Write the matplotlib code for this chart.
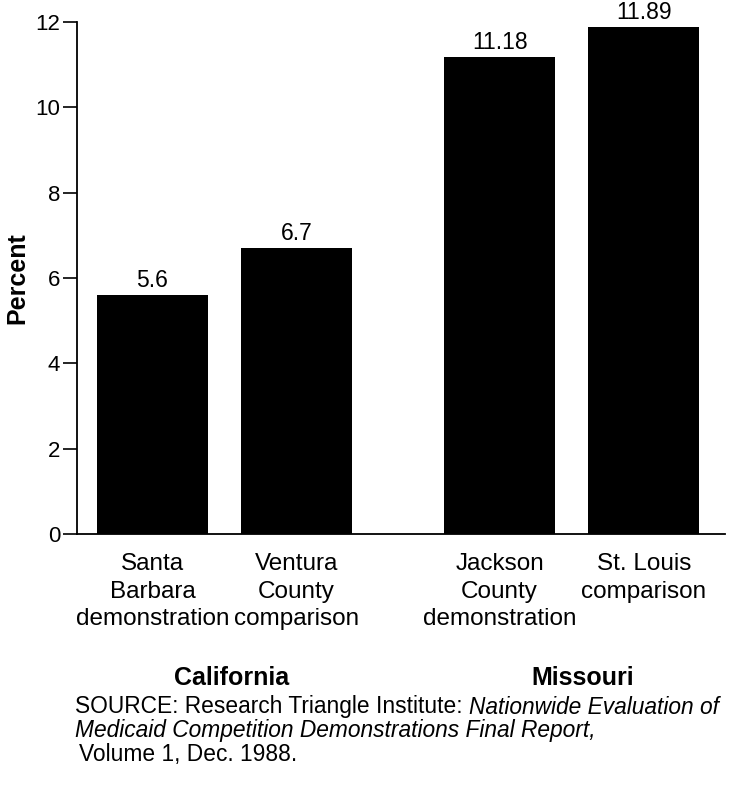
import numpy as np
import matplotlib.pyplot as plt

plt.rcParams['font.family'] = ['Liberation Sans', 'DejaVu Sans']

categories = ["Santa\nBarbara\ndemonstration", "Ventura\nCounty\ncomparison",
              "Jackson\nCounty\ndemonstration", "St. Louis\ncomparison"]
values = [5.6, 6.7, 11.18, 11.89]
value_labels = ["5.6", "6.7", "11.18", "11.89"]
groups = ["California", "Missouri"]
yticks = [0, 2, 4, 6, 8, 10, 12]

xpos = [0, 1.3, 3.13, 4.43]

fig = plt.figure(figsize=(7.37, 7.94), dpi=100)
ax = fig.add_axes([0.1045, 0.3275, 0.879, 0.645])

ax.bar(xpos, values, width=1.0, color='black')
for x, v, lab in zip(xpos, values, value_labels):
    ax.text(x, v + 0.06, lab, ha='center', va='bottom', fontsize=16.5)

ax.set_xlim(-0.68, 5.16)
ax.set_ylim(0, 12)
ax.set_yticks(yticks)
ax.set_yticklabels([str(t) for t in yticks], fontsize=16)
ax.set_xticks(xpos)
ax.set_xticklabels(categories, fontsize=17.5, linespacing=1.3)
ax.tick_params(axis='x', length=0, pad=14)
ax.tick_params(axis='y', direction='out', length=10, width=1.2, pad=2)
for s in ['top', 'right']:
    ax.spines[s].set_visible(False)
ax.spines['left'].set_linewidth(1.3)
ax.spines['bottom'].set_linewidth(1.3)

# y label
fig.text(17 / 737, 1 - 278 / 794, 'Percent', rotation=90, ha='center', va='center',
         fontsize=18, fontweight='bold')

# group labels
fig.text(232 / 737, 1 - 678 / 794, groups[0], ha='center', va='center',
         fontsize=18, fontweight='bold')
fig.text(583 / 737, 1 - 678 / 794, groups[1], ha='center', va='center',
         fontsize=18, fontweight='bold')

# source note with mixed italics
fig.canvas.draw()
renderer = fig.canvas.get_renderer()

def put_pieces(x0, y, pieces):
    x = x0
    for txt, style in pieces:
        t = fig.text(x, y, txt, ha='left', va='center', fontsize=16.4, style=style)
        bb = t.get_window_extent(renderer=renderer)
        x = x + bb.width / fig.bbox.width

put_pieces(75 / 737, 1 - 707 / 794,
           [("SOURCE: Research Triangle Institute: ", 'normal'),
            ("Nationwide Evaluation of", 'italic')])
put_pieces(75 / 737, 1 - 731 / 794,
           [("Medicaid Competition Demonstrations Final Report,", 'italic')])
put_pieces(79 / 737, 1 - 755 / 794,
           [("Volume 1, Dec. 1988.", 'normal')])

fig.savefig('out.png', dpi=100)
